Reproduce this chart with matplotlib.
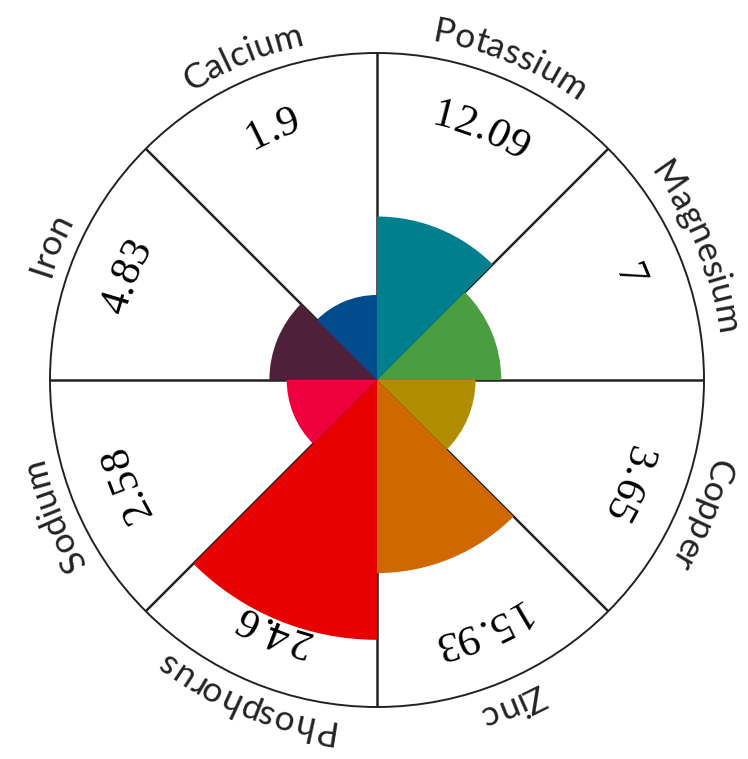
import numpy as np
import matplotlib.pyplot as plt
from matplotlib.font_manager import FontProperties

minerals = ["Potassium", "Magnesium", "Copper", "Zinc",
            "Phosphorus", "Sodium", "Iron", "Calcium"]
amounts = [12.09, 7, 3.65, 15.93, 24.6, 2.58, 4.83, 1.9]
colors = ["#00808f", "#4a9e40", "#b08c00", "#d06800",
          "#e60000", "#ee003e", "#4e2039", "#004c8c"]

# radial scale in pixels: r = base + step * value
R_OUT = 327
R_BASE = 70.4
R_STEP = 7.7

fig = plt.figure(figsize=(7.48, 7.59), dpi=100)
ax = fig.add_axes([50 / 748, 52 / 759, 654 / 748, 654 / 759], projection="polar")
ax.set_theta_zero_location("N")
ax.set_theta_direction(-1)
ax.set_ylim(0, R_OUT)
ax.grid(False)
ax.set_xticks([])
ax.set_yticks([])
ax.spines["polar"].set_linewidth(1.4)
ax.spines["polar"].set_color("#222222")

n = len(minerals)
step = 2 * np.pi / n
mids = np.arange(n) * step + step / 2

for k in range(n):
    ax.plot([k * step, k * step], [0, R_OUT], color="#222222", lw=1.8, zorder=2)

ax.bar(mids, [R_BASE + R_STEP * v for v in amounts], width=step, bottom=0,
       color=colors, edgecolor="none", zorder=3)

renderer = fig.canvas.get_renderer()


def width_of(s, fp):
    if not s:
        return 0.0
    w, h, d = renderer.get_text_width_height_descent(s, fp, ismath=False)
    return w


def arc_text(s, theta, radius, fp, color):
    # lay the characters out clockwise along a circle, tops pointing outward
    total = width_of(s, fp)
    for i, ch in enumerate(s):
        left = width_of(s[:i], fp)
        right = width_of(s[:i + 1], fp)
        off = ((left + right) / 2 - total / 2) / radius
        t = theta + off
        ax.text(t, radius, ch, fontproperties=fp, color=color,
                rotation=-np.degrees(t), rotation_mode="anchor",
                ha="center", va="baseline", clip_on=False, zorder=5)


name_font = FontProperties(family="Lato", size=25.5)
value_font = FontProperties(family="Liberation Serif", size=31)

for name, v, t in zip(minerals, amounts, mids):
    arc_text(name, t, 343, name_font, "#222222")
    arc_text(f"{v:g}", t, 261, value_font, "black")

fig.savefig("out.png", dpi=100)
plt.close()
